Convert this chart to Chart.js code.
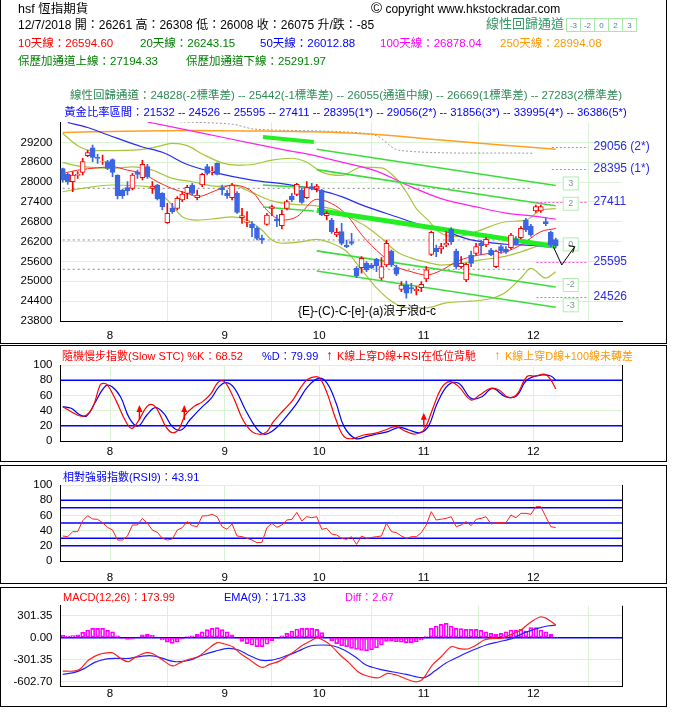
<!DOCTYPE html>
<html>
<head>
<meta charset="utf-8">
<script src="https://cdn.jsdelivr.net/npm/chart.js@4.4.1/dist/chart.umd.min.js"></script>
<style>
body { margin: 0; background: #fff; }
#wrap { position: relative; width: 677px; height: 717px; overflow: hidden; background: #fff;
        font-family: "Liberation Sans", "Noto Sans CJK TC", sans-serif; font-size: 12px; }
canvas { position: absolute; left: 0; }
.t { position: absolute; white-space: nowrap; line-height: 14px; }
.s { font-size: 11px; }
.frame { position: absolute; border: 1px solid #000; box-sizing: border-box; }
.box { display: inline-block; width: 15px; height: 14px; border: 1px solid #a8e8a8; margin-right: -1px;
       font-size: 8px; line-height: 14px; text-align: center; color: #3f86a8; box-sizing: border-box; }
</style>
</head>
<body>
<div id="wrap">
  <div class="frame" style="left:0;top:-1px;width:667px;height:345px"></div>
  <div class="frame" style="left:0;top:345px;width:667px;height:117px"></div>
  <div class="frame" style="left:0;top:465px;width:667px;height:119px"></div>
  <div class="frame" style="left:0;top:587px;width:667px;height:120px"></div>

  <canvas id="cMain" width="677" height="345" style="top:0"></canvas>
  <canvas id="cStoch" width="677" height="115" style="top:345px"></canvas>
  <canvas id="cRsi" width="677" height="125" style="top:460px"></canvas>
  <canvas id="cMacd" width="677" height="122" style="top:585px"></canvas>

  <div class="t" style="left:18px;top:2px;font-size:12.5px">hsf 恆指期貨</div>
  <div class="t" style="left:371px;top:1px"><span style="font-size:15px">©</span> copyright www.hkstockradar.com</div>
  <div class="t" style="left:18px;top:18px">12/7/2018 開：26261 高：26308 低：26008 收：26075 升/跌：-85</div>
  <div class="t" style="left:486px;top:17px;color:#339966;font-size:13px">線性回歸通道</div>
  <div class="t" style="left:566px;top:17px"><span class="box">-3</span><span class="box">-2</span><span class="box">0</span><span class="box">2</span><span class="box">3</span></div>

  <div class="t" style="left:18px;top:36px;color:#ff0000;font-size:11.5px">10天線：26594.60</div>
  <div class="t" style="left:140px;top:36px;color:#008000;font-size:11.5px">20天線：26243.15</div>
  <div class="t" style="left:260px;top:36px;color:#0000ff;font-size:11.5px">50天線：26012.88</div>
  <div class="t" style="left:380px;top:36px;color:#ff00ff;font-size:11.5px">100天線：26878.04</div>
  <div class="t" style="left:500px;top:36px;color:#ff9900;font-size:11.5px">250天線：28994.08</div>
  <div class="t" style="left:18px;top:54px;color:#008000;font-size:11.5px">保歷加通道上線：27194.33</div>
  <div class="t" style="left:186px;top:54px;color:#008000;font-size:11.5px">保歷加通道下線：25291.97</div>

  <div class="t" style="left:0;width:692px;text-align:center;top:88px;color:#2e8b57;font-size:11.5px">線性回歸通道：24828(-2標準差) -- 25442(-1標準差) -- 26055(通道中線) -- 26669(1標準差) -- 27283(2標準差)</div>
  <div class="t" style="left:0;width:691px;text-align:center;top:105px;color:#0000ff;font-size:11.3px">黃金比率區間：21532 -- 24526 -- 25595 -- 27411 -- 28395(1*) -- 29056(2*) -- 31856(3*) -- 33995(4*) -- 36386(5*)</div>

  <div class="t" style="left:298px;top:304px">{E}-(C)-C-[e]-(a)浪子浪d-c</div>

  <div class="t s" style="left:62px;top:349px;color:#ff0000">隨機慢步指數(Slow STC) %K：68.52</div>
  <div class="t s" style="left:262px;top:349px;color:#0000ff">%D：79.99</div>
  <div class="t" style="left:326px;top:348px;color:#ff0000;font-size:14px;font-weight:bold">↑</div>
  <div class="t s" style="left:337px;top:349px;color:#ff0000">K線上穿D線+RSI在低位背馳</div>
  <div class="t" style="left:494px;top:348px;color:#ffaa00;font-size:14px;font-weight:bold">↑</div>
  <div class="t s" style="left:505px;top:349px;color:#ff9900">K線上穿D線+100線未轉差</div>

  <div class="t s" style="left:63px;top:470px;color:#0000ff">相對強弱指數(RSI9)：43.91</div>

  <div class="t s" style="left:63px;top:590px;color:#ff0000">MACD(12,26)：173.99</div>
  <div class="t s" style="left:224px;top:590px;color:#0000ff">EMA(9)：171.33</div>
  <div class="t s" style="left:345px;top:590px;color:#ff00ff">Diff：2.67</div>
</div>

<script>
// ---- axis ticks ----
var monthLabels = ['8', '9', '10', '11', '12'];
var monthTickIdx = [9.5, 32.5, 51.5, 72.5, 94.5];
var priceTicks = [23800, 24400, 25000, 25600, 26200, 26800, 27400, 28000, 28600, 29200];
var oscTicks = [0, 20, 40, 60, 80, 100];
var macdTicks = [-602.70, -301.35, 0, 301.35];

// ---- daily candles, 18 Jul 2018 .. 7 Dec 2018 ----
var opens = [28410,28230,28010,28200,28293,28797,29038,28746,28610,28615,
  28676,28213,27760,27830,27810,28293,28132,28465,27810,27910,
  27658,26773,27206,27206,27457,27660,27910,27528,27910,28464,
  28314,28565,27830,27659,27528,27659,26924,26783,26722,26602,
  26300,26722,27206,26883,26682,27206,27578,27629,27760,27528,
  27860,27810,27760,26984,26853,26400,26500,26098,26198,25393,
  25413,25544,25494,25675,25091,25494,25917,25413,24758,24889,
  24809,24718,24809,25071,25816,25997,25977,26098,26581,25917,
  25443,25041,25796,25846,26148,26098,25947,25443,26048,25977,
  26017,26279,26319,26853,26672,27125,27125,26803,26481,26261];
var highs = [28420,28260,28310,28320,28716,28960,29119,28837,28816,28656,
  28700,28220,27780,28011,28263,28364,28656,28535,28011,27930,
  27680,27357,27357,27558,27709,27900,27960,27760,28263,28535,
  28464,28580,27910,27760,27960,27709,27206,27105,26803,26652,
  26400,27054,27306,27004,27155,27457,27659,27960,27810,28011,
  27960,27930,27780,27105,26904,26601,26752,26249,26450,25443,
  25745,25594,25540,25695,25715,26249,25947,25494,24990,25010,
  24940,24839,24990,25443,26521,26098,26148,26500,26621,25977,
  25745,25544,25917,26148,26249,26319,25997,25947,26098,26048,
  26450,26350,26651,26904,26722,27306,27306,26904,26521,26308];
var lows = [28000,27930,27710,28110,28213,28766,28615,28565,28535,28374,
  28162,27487,27508,27608,27760,28112,28062,28112,27659,27460,
  27155,26752,27055,27155,27407,27500,27609,27458,27860,28213,
  28213,28213,27609,27508,27458,27054,26753,26652,26350,26249,
  26148,26700,26984,26652,26582,27155,27407,27588,27357,27508,
  27760,27700,26984,26853,26450,26350,26098,26017,26098,25111,
  25242,25292,25380,25292,25041,25443,25443,25172,24688,24487,
  24638,24588,24688,24990,25776,25745,25846,26048,26118,25373,
  25393,24990,25443,25796,25796,26048,25776,25413,25846,25846,
  25977,26098,26279,26500,26360,27085,27085,26682,26048,26008];
var closes = [28060,28010,28210,28230,28615,28887,28746,28716,28620,28414,
  28293,27588,27588,27730,28213,28233,28535,28162,27880,27487,
  27256,27054,27105,27508,27638,27840,27659,27608,28233,28263,
  28333,28233,27760,27588,27910,27085,26984,26823,26622,26299,
  26250,27004,27256,26823,27024,27407,27457,27930,27387,27830,
  27790,27880,27004,27054,26500,26480,26148,26048,26148,25171,
  25695,25343,25413,25473,25443,26148,25494,25212,24889,24638,
  24769,24758,24909,25343,26481,25896,26048,26148,26198,25443,
  25544,25514,25544,26048,26078,26269,25796,25917,25917,25877,
  26400,26138,26601,26551,26400,27256,27256,26742,26098,26075];

// ---- moving averages / bands as [day, value] ----
var ma10 = [[0,28260],[3,28360],[7,28430],[10,28460],[13,28360],[16,28260],[19,28010],[22,27800],
  [25,27660],[27,27560],[31,27760],[34,27910],[38,27710],[41,27150],[44,26850],[47,26950],
  [51,27480],[54,27350],[57,27010],[60,26410],[64,25800],[67,25440],[70,25290],[73,25190],
  [76,25330],[79,25590],[82,25745],[86,25850],[89,25900],[92,26100],[96,26500],[99,26595]];
var ma20 = [[0,28585],[4,28465],[10,28410],[14,28460],[18,28360],[22,28110],[26,28010],[31,27870],
  [34,27900],[38,27680],[42,27430],[46,27330],[51,27280],[55,27150],[58,26900],[61,26650],
  [64,26300],[67,25900],[70,25700],[73,25580],[76,25490],[80,25540],[84,25650],[88,25730],
  [92,25890],[96,26100],[99,26243]];
var ma50 = [[1,29800],[5,29650],[9,29430],[16,29060],[20,28900],[25,28530],[31,28270],[38,28060],
  [45,27930],[51,27770],[56,27560],[60,27310],[67,26950],[72,26700],[76,26550],[82,26250],
  [89,26120],[95,26080],[99,26013]];
var ma100 = [[17,29815],[28,29480],[38,29170],[45,28960],[50,28820],[56,28600],[63,28330],
  [69,27920],[76,27500],[83,27250],[89,27060],[95,26960],[99,26878]];
var ma250 = [[0,29500],[6,29520],[25,29560],[40,29540],[50,29520],[63,29440],[76,29270],
  [88,29120],[99,28994]];
var bollUp = [[0,29470],[3,29100],[6,28950],[10,28950],[15,28970],[19,29070],[22,29170],[25,29100],
  [28,28850],[32,28580],[35,28510],[38,28530],[42,28660],[46,28720],[49,28600],[52,28300],
  [56,28200],[60,28450],[64,28430],[67,28100],[69,27700],[71,27200],[73,26900],[76,26450],
  [79,26350],[83,26500],[89,26800],[93,26850],[96,27150],[99,27194]];
var bollDn = [[0,27710],[4,27810],[10,27910],[17,27860],[21,27460],[24,26950],[27,26850],[31,26900],
  [34,26950],[37,26850],[40,26550],[42,26250],[44,26150],[48,26200],[51,26270],[54,26150],
  [57,25900],[60,25350],[63,24800],[66,24400],[69,24200],[73,24200],[77,24350],[82,24400],
  [86,24480],[89,24680],[92,25100],[94,25390],[97,25100],[99,25292]];
var topDotted = [[23.5,29820],[34,29750],[38.5,29600],[56,29520],[63,29400],[67.5,28960],[94.4,28870]];
var grayLevels = [27810, 26249, 25363];
var grayFromIdx = 0, grayToIdx = 94.4;

// ---- linear regression channel (+3, +2, mid, -2, -3) ----
var regNames = ['3', '2', '0', '-2', '-3'];
var regStart = [28990, 28375, 27150, 25920, 25310];
var regEnd = [27897, 27283, 26055, 24828, 24214];
var regFromIdx = 51, regToIdx = 99, regBoxIdx = 102;
var oldChanStart = [29360, 27910, 27245];
var oldChanEnd = [29210, 27820, 27125];
var oldChanFromIdx = 40.2, oldChanToIdx = 50.4;

// ---- golden ratio levels ----
var goldLevels = [29056, 28395, 27411, 25595, 24526];
var goldTexts = ['29056 (2*)', '28395 (1*)', '27411', '25595', '24526'];
var goldFromIdx = [98.2, 98.2, 95.1, 95.1, 95.1];
var goldToIdx = 105.5, goldLabelIdx = 106.6;

var waveArrow = [[98.5, 26047], [100.2, 25494], [102.8, 26047]];

// ---- slow stochastic ----
var stochK = [[0,45.2],[1.7,38.6],[3.5,32.9],[4.8,34.2],[6.1,45.2],[7.5,73.7],[8.2,75.9],[9,73.7],
  [10.8,51.8],[12.5,27.6],[13.8,16.7],[15.1,25.4],[16.9,45.2],[18.2,47.4],[19.4,36.4],[20.7,18.9],
  [22,11],[23.3,15.4],[24.6,34.2],[26.3,45.2],[28.1,51.8],[29.8,62.7],[31,75.9],[31.9,79.4],
  [32.8,75.9],[34.5,53.9],[36.2,27.6],[38,12.3],[39.7,8.8],[41,12.3],[42.3,25.4],[44.4,40.8],
  [46.2,53.9],[47.9,71.5],[49.2,81.1],[50.9,84.6],[51.8,81.1],[53.1,62.7],[54.9,27.6],[56.5,5.7],
  [58.2,3.1],[60.4,7.9],[62.6,10.1],[64.8,14.5],[66.9,18.9],[69,12.3],[70.8,9.2],[72.5,14.5],
  [74.2,40.8],[76,69.3],[77.7,78.1],[79.5,71.5],[82,53.9],[83.7,60.5],[85.9,69.3],[87.6,67.1],
  [89.4,57.5],[91.1,60.5],[93.2,84.6],[94.9,85.5],[96.9,87.7],[98,80.3],[99,68.5]];
var stochD = [[0,45.2],[1.7,43],[3.5,34.2],[4.8,32.9],[6.4,49.6],[8.6,72.4],[9.9,71.5],[11.6,58.3],
  [13.4,29.8],[15.1,19.7],[16.9,34.2],[18.6,43.9],[20.3,36.4],[22,18.9],[23.8,14.5],[25.5,27.6],
  [27.7,43],[29.8,56.1],[31.4,71.5],[32.8,76.8],[34.5,69.3],[36.7,40.8],[38.9,16.7],[40.6,8.8],
  [42.8,16.7],[44.9,32],[47,49.6],[49.2,71.5],[51.4,82.5],[53.1,75.9],[54.9,49.6],[56.5,18.9],
  [58.7,3.5],[60.9,5.7],[63.1,9.2],[65.3,12.3],[67.5,18],[69.5,14.5],[71.7,11],[73.4,18.9],
  [75.2,49.6],[77.4,73.7],[79.5,75.9],[82,56.1],[84.2,58.3],[86.3,69.3],[88.9,58.3],[91.1,59.2],
  [93.2,80.3],[96.2,86.8],[98,85.5],[99,80]];
var stochArrowIdx = [15.4, 24.4, 72.5];
var stochArrowFrom = [27.6, 27.6, 18];
var stochArrowTo = [47.4, 47.4, 37.3];

// ---- RSI(9) ----
var rsi = [32.9,32,38.6,38.6,53,59.6,55.3,54.8,50.4,44.3,
  40.8,27.6,27.6,32.9,47.4,47.4,56.1,49.6,40.8,37.7,
  29.8,27.6,28.9,40.8,43.9,51.8,46.5,45.2,59.2,59.6,
  61.4,58.3,45.2,41.7,48.7,32.9,32,29.8,27.6,24.1,
  24.6,43.9,49.6,44.3,47.4,53.9,54.8,64,52.6,58.3,
  57,58.3,41.7,43,35.5,34.2,29.8,28.5,32,21.9,
  32.9,29.8,31,32,32.9,49.6,38.6,37.3,32.9,29.8,
  32,32,37.3,47.4,64.9,53.9,55,56.1,58.3,45.2,
  47.4,51.8,46.5,54.8,56.1,58.3,48.7,50.4,50.4,50.4,
  60.5,57,62.7,62.7,61.4,71.5,71.5,58.3,45.2,43.9];
var rsiLevels = [80, 70, 50, 30, 20];

// ---- MACD ----
var macdLine = [[0,-457],[2.2,-457],[3.5,-429],[5.2,-306],[7.3,-228],[9.5,-205],[10.3,-215],[11.6,-283],
  [13.2,-329],[14.2,-283],[15.5,-237],[16.8,-205],[18.2,-224],[19.8,-292],[21.5,-374],[22.4,-384],
  [23.7,-338],[25.5,-292],[27.2,-260],[28.9,-169],[31,-68],[32.3,-82],[34.1,-123],[35.8,-224],
  [37.6,-306],[39.3,-388],[40.2,-406],[41.5,-365],[43.5,-320],[45.7,-228],[47.9,-114],[49.7,-46],
  [51,0],[51.8,-18],[53.6,-91],[55.7,-237],[57.4,-338],[59.5,-475],[61.7,-534],[63.5,-548],
  [65.2,-489],[67,-511],[69,-566],[70.8,-603],[72.1,-580],[72.9,-511],[74.2,-374],[76,-260],
  [78,-123],[79.5,-146],[81.2,-155],[82.8,-110],[84.6,-32],[86.3,-9],[88.1,-9],[89.8,37],
  [92,105],[93.6,196],[95.8,283],[97.1,265],[99,174]];
var emaLine = [[0,-502],[2.2,-479],[4.4,-420],[6.4,-338],[8.6,-292],[10.8,-283],[13.4,-283],[16,-251],
  [18.5,-251],[21.1,-306],[22.8,-329],[25.5,-306],[28.1,-237],[30.7,-183],[33.2,-146],[35.3,-169],
  [37.6,-247],[39.7,-306],[42,-306],[44.4,-260],[47,-192],[49.7,-114],[52.2,-100],[54.4,-114],
  [56.5,-169],[58.7,-260],[60.9,-374],[63.5,-429],[66.1,-466],[69,-502],[72.5,-548],[74.7,-457],
  [76.8,-352],[79.5,-260],[82.4,-169],[85,-100],[87.6,-55],[90.3,-9],[92.9,73],[95.4,128],
  [97.6,164],[99,171]];
var diffBars = [37,23,30,40,73,105,128,128,128,100,
  82,27,-9,-23,-20,10,40,46,35,10,
  -30,-60,-78,-60,-15,14,25,45,80,110,
  128,137,110,80,40,-10,-50,-80,-100,-123,
  -123,-90,-40,-10,27,60,90,119,128,128,
  128,115,70,10,-40,-80,-110,-123,-146,-160,
  -175,-178,-165,-140,-100,-50,-46,-55,-62,-68,
  -68,-55,-30,14,128,160,183,196,160,128,
  125,114,114,114,100,82,60,46,60,82,
  105,100,115,90,137,137,105,82,46,2.67];

// ---- styling ----
var FONT = '"Liberation Sans", "Noto Sans CJK TC", sans-serif';
Chart.defaults.font.family = FONT;
Chart.defaults.font.size = 11;
Chart.defaults.color = '#000';
var GRID = '#d9f2d4';
var UP = '#ff0000', DOWN = '#3b66e3';
var X_MIN = -0.45, X_MAX = 112.3;

function pairs(list) {
  return list.map(function(p) { return { x: p[0], y: p[1] }; });
}

function lineDs(data, color, width, extra) {
  var ds = { type: 'line', data: data, borderColor: color, borderWidth: width, pointRadius: 0,
             fill: false, cubicInterpolationMode: 'monotone', order: 3 };
  for (var k in extra) { ds[k] = extra[k]; }
  return ds;
}

function xAxis(height, pad) {
  return {
    type: 'linear', min: X_MIN, max: X_MAX, offset: false,
    afterBuildTicks: function(s) { s.ticks = monthTickIdx.map(function(v) { return { value: v }; }); },
    afterFit: function(s) { s.height = height; },
    ticks: {
      padding: pad, maxRotation: 0, autoSkip: false, font: { size: 11.5 },
      callback: function(v) { var k = monthTickIdx.indexOf(v); return k < 0 ? '' : monthLabels[k]; }
    },
    grid: { color: GRID, drawTicks: false },
    border: { color: '#000' }
  };
}

function yAxis(min, max, tickList, fmt) {
  return {
    type: 'linear', min: min, max: max,
    afterBuildTicks: function(s) { s.ticks = tickList.map(function(v) { return { value: v }; }); },
    afterFit: function(s) { s.width = 60.5; },
    ticks: { padding: 8, autoSkip: false, font: { size: 11.5 },
             callback: fmt || function(v) { return String(v); } },
    grid: { color: GRID, drawTicks: false },
    border: { color: '#000' }
  };
}

var baseOptions = function(padTop, scales) {
  return {
    responsive: false, animation: false, devicePixelRatio: 1,
    layout: { padding: { top: padTop, right: 55, left: 0, bottom: 0 } },
    plugins: { legend: { display: false }, tooltip: { enabled: false } },
    scales: scales
  };
};

// horizontal level lines and right frame of the lower panels
var levelLines = {
  id: 'levels',
  beforeDatasetsDraw: function(chart, args, opts) {
    var ctx = chart.ctx, a = chart.chartArea, ys = chart.scales.y;
    ctx.save();
    ctx.strokeStyle = '#0000ff';
    ctx.lineWidth = 1.6;
    (opts.values || []).forEach(function(v) {
      var py = ys.getPixelForValue(v);
      ctx.beginPath(); ctx.moveTo(a.left, py); ctx.lineTo(a.right, py); ctx.stroke();
    });
    ctx.strokeStyle = '#000';
    ctx.lineWidth = 1;
    ctx.beginPath(); ctx.moveTo(a.right + 0.5, a.top); ctx.lineTo(a.right + 0.5, a.bottom); ctx.stroke();
    ctx.restore();
  }
};

// golden ratio levels, channel boxes and the wave arrow
var mainDecor = {
  id: 'mainDecor',
  afterDatasetsDraw: function(chart) {
    var ctx = chart.ctx, xs = chart.scales.x, ys = chart.scales.y;
    ctx.save();

    ctx.strokeStyle = '#ff55dd';
    ctx.lineWidth = 1;
    ctx.setLineDash([2, 2]);
    goldLevels.forEach(function(v, k) {
      var py = Math.round(ys.getPixelForValue(v)) + 0.5;
      ctx.beginPath();
      ctx.moveTo(xs.getPixelForValue(goldFromIdx[k]), py);
      ctx.lineTo(xs.getPixelForValue(goldToIdx), py);
      ctx.stroke();
    });
    ctx.setLineDash([]);

    ctx.fillStyle = '#2a2ae8';
    ctx.font = '12px ' + FONT;
    ctx.textBaseline = 'middle';
    goldLevels.forEach(function(v, k) {
      ctx.fillText(goldTexts[k], xs.getPixelForValue(goldLabelIdx), ys.getPixelForValue(v));
    });

    var bx = xs.getPixelForValue(regBoxIdx);
    ctx.font = '9px ' + FONT;
    ctx.textAlign = 'center';
    regEnd.forEach(function(v, k) {
      var by = ys.getPixelForValue(v) - 2;
      ctx.fillStyle = '#fff';
      ctx.fillRect(bx - 8, by - 7, 16, 14);
      ctx.strokeStyle = '#b0ecb0';
      ctx.strokeRect(bx - 7.5, by - 6.5, 15, 13);
      ctx.fillStyle = '#7a9a90';
      ctx.fillText(regNames[k], bx, by);
    });

    ctx.strokeStyle = '#000';
    ctx.lineWidth = 1;
    ctx.beginPath();
    waveArrow.forEach(function(p, k) {
      var px = xs.getPixelForValue(p[0]), py = ys.getPixelForValue(p[1]);
      if (k === 0) { ctx.moveTo(px, py); } else { ctx.lineTo(px, py); }
    });
    ctx.stroke();
    var tip = waveArrow[waveArrow.length - 1];
    var tx = xs.getPixelForValue(tip[0]), ty = ys.getPixelForValue(tip[1]);
    ctx.beginPath();
    ctx.moveTo(tx - 6, ty - 1); ctx.lineTo(tx, ty); ctx.lineTo(tx - 2, ty + 6);
    ctx.stroke();
    ctx.restore();
  }
};

var stochArrows = {
  id: 'stochArrows',
  afterDatasetsDraw: function(chart) {
    var ctx = chart.ctx, xs = chart.scales.x, ys = chart.scales.y;
    ctx.save();
    ctx.strokeStyle = '#ff0000';
    ctx.fillStyle = '#ff0000';
    ctx.lineWidth = 1.5;
    stochArrowIdx.forEach(function(v, k) {
      var px = xs.getPixelForValue(v);
      var y0 = ys.getPixelForValue(stochArrowFrom[k]), y1 = ys.getPixelForValue(stochArrowTo[k]);
      ctx.beginPath(); ctx.moveTo(px, y0); ctx.lineTo(px, y1 + 5); ctx.stroke();
      ctx.beginPath(); ctx.moveTo(px, y1); ctx.lineTo(px - 3, y1 + 7); ctx.lineTo(px + 3, y1 + 7);
      ctx.closePath(); ctx.fill();
    });
    ctx.restore();
  }
};

// ---- main price panel ----
var isUp = closes.map(function(c, i) { return c >= opens[i]; });
var bodies = closes.map(function(c, i) { return { x: i, y: [opens[i], c] }; });
var wicks = closes.map(function(c, i) { return { x: i, y: [lows[i], highs[i]] }; });

var mainSets = [
  { type: 'bar', data: bodies, barThickness: 5, grouped: false, borderSkipped: false, borderWidth: 1,
    backgroundColor: isUp.map(function(u) { return u ? '#ffffff' : DOWN; }),
    borderColor: isUp.map(function(u) { return u ? UP : DOWN; }), order: 0 },
  { type: 'bar', data: wicks, barThickness: 1, grouped: false, borderWidth: 0,
    backgroundColor: isUp.map(function(u) { return u ? UP : DOWN; }), order: 1 },
  lineDs(pairs(ma10), '#ff2020', 1),
  lineDs(pairs(ma50), '#2a2af0', 1.2),
  lineDs(pairs(ma100), '#ff22ee', 1.2),
  lineDs(pairs(ma250), '#ffa020', 1.5),
  lineDs(pairs(ma20), '#a8c43c', 1.2),
  lineDs(pairs(bollUp), '#a8c43c', 1.2),
  lineDs(pairs(bollDn), '#a8c43c', 1.2),
  lineDs(pairs(topDotted), '#9a9a9a', 1, { borderDash: [2, 2], cubicInterpolationMode: 'default', tension: 0.3 })
];
grayLevels.forEach(function(v) {
  mainSets.push(lineDs([{ x: grayFromIdx, y: v }, { x: grayToIdx, y: v }], '#8a8a8a', 1, { borderDash: [2, 3] }));
});
regStart.forEach(function(v, k) {
  var thick = regNames[k] === '0';
  mainSets.push(lineDs([{ x: regFromIdx, y: v }, { x: regToIdx, y: regEnd[k] }],
    thick ? '#22ee22' : '#3cdc3c', thick ? 5 : 1.6, { order: 2 }));
});
oldChanStart.forEach(function(v, k) {
  mainSets.push(lineDs([{ x: oldChanFromIdx, y: v }, { x: oldChanToIdx, y: oldChanEnd[k] }],
    k === 0 ? '#22ee22' : '#3cdc3c', k === 0 ? 4 : 1.6, { order: 2 }));
});

new Chart(document.getElementById('cMain'), {
  type: 'bar',
  data: { datasets: mainSets },
  options: baseOptions(122, { x: xAxis(24, 8), y: yAxis(23800, 29815, priceTicks) }),
  plugins: [mainDecor]
});

// ---- slow stochastic panel ----
var stochOpts = baseOptions(20, { x: xAxis(19, 4), y: yAxis(0, 100, oscTicks) });
stochOpts.plugins.levels = { values: [80, 20] };
new Chart(document.getElementById('cStoch'), {
  type: 'line',
  data: { datasets: [
    lineDs(pairs(stochK), '#ff0000', 1.2, { cubicInterpolationMode: 'default', tension: 0.4 }),
    lineDs(pairs(stochD), '#0000ff', 1.2, { cubicInterpolationMode: 'default', tension: 0.4 })
  ] },
  options: stochOpts,
  plugins: [levelLines, stochArrows]
});

// ---- RSI panel ----
var rsiOpts = baseOptions(25, { x: xAxis(24, 10), y: yAxis(0, 100, oscTicks) });
rsiOpts.plugins.levels = { values: rsiLevels };
new Chart(document.getElementById('cRsi'), {
  type: 'line',
  data: { datasets: [
    lineDs(rsi.map(function(v, i) { return { x: i, y: v }; }), '#ff2020', 1, { cubicInterpolationMode: 'default', tension: 0 })
  ] },
  options: rsiOpts,
  plugins: [levelLines]
});

// ---- MACD panel ----
var macdOpts = baseOptions(20.7, { x: xAxis(21, 1),
  y: yAxis(-661, 438, macdTicks, function(v) { return v.toFixed(2); }) });
macdOpts.plugins.levels = { values: [0] };
new Chart(document.getElementById('cMacd'), {
  type: 'bar',
  data: { datasets: [
    lineDs(pairs(macdLine), '#ff2020', 1.2, { order: 0, cubicInterpolationMode: 'default', tension: 0.3 }),
    lineDs(pairs(emaLine), '#2020ff', 1.2, { order: 1, cubicInterpolationMode: 'default', tension: 0.3 }),
    { type: 'bar', data: diffBars.map(function(v, i) { return { x: i, y: v }; }), barThickness: 4,
      grouped: false, borderSkipped: false, borderWidth: 1, borderColor: '#ff00ff',
      backgroundColor: 'rgba(255,255,255,0)', order: 2 }
  ] },
  options: macdOpts,
  plugins: [levelLines]
});
</script>
</body>
</html>
